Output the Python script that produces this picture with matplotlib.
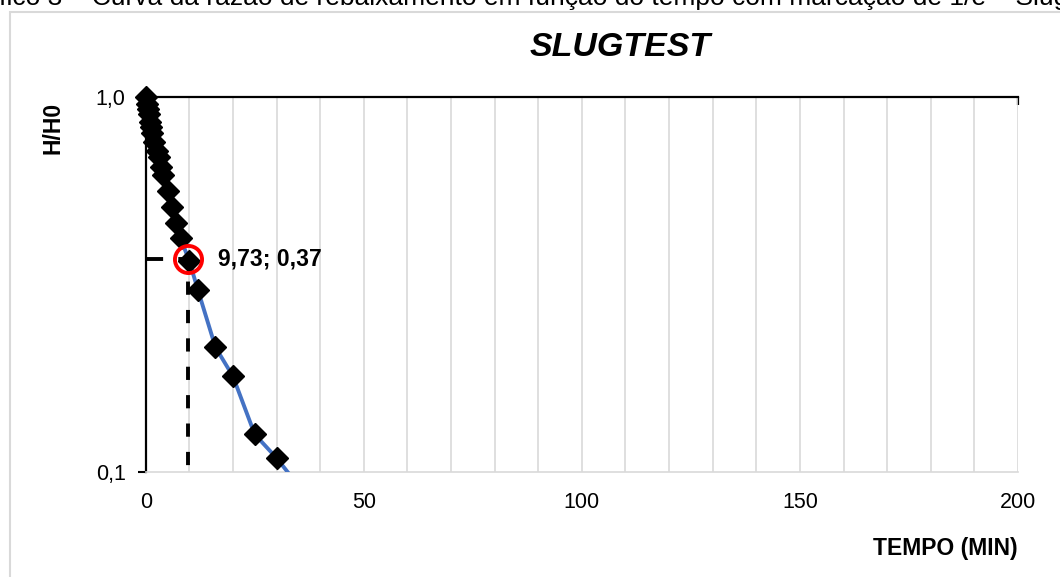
import numpy as np
import matplotlib
matplotlib.use("Agg")
import matplotlib.pyplot as plt
from matplotlib.ticker import MultipleLocator, FixedLocator, NullLocator
from matplotlib.patches import Rectangle

plt.rcParams['font.family'] = ['Liberation Sans', 'DejaVu Sans']

# dados do slug test
tempo = [0, 0.25, 0.5, 0.75, 1.0, 1.25, 1.5, 2.0, 2.5, 3.0, 3.5, 4.0,
         5, 6, 7, 8, 10, 12, 16, 20, 25, 30, 35]
h_h0 = [1.0, 0.96, 0.93, 0.90, 0.86, 0.83, 0.80, 0.76, 0.72, 0.69, 0.65, 0.62,
        0.56, 0.51, 0.46, 0.42, 0.365, 0.305, 0.215, 0.18, 0.126, 0.109, 0.092]

# ponto 1/e marcado
t_marca = 9.73
h_marca = 0.37

x_ticks = [0, 50, 100, 150, 200]
y_ticks = [0.1, 1.0]
y_ticklabels = ['0,1', '1,0']

W, H = 1060, 577
fig = plt.figure(figsize=(W / 100, H / 100), dpi=100)
ax = fig.add_axes([145.7 / W, 1 - 472 / H, (1018 - 145.7) / W, (472 - 97) / H])

# moldura cinza do grafico
fig.patches.append(Rectangle((10 / W, -0.1), 1.2, 1.1 - 12 / H, transform=fig.transFigure,
                             fill=False, edgecolor='#D9D9D9', lw=1.5))

# legenda do documento (cortada no topo)
cap = "Gráfico 3 – Curva da razão de rebaixamento em função do tempo com marcação de 1/e – Slugtest"
r = fig.canvas.get_renderer()
tmp = fig.text(0, 0, "Grá", fontsize=19)
w_gra = tmp.get_window_extent(r).width
tmp.remove()
fig.text(-(w_gra + 1) / W, 1 - 5 / H, cap, fontsize=19, va='baseline', ha='left')

ax.set_yscale('log')
ax.set_xlim(0, 200)
ax.set_ylim(0.1, 1.0)

ax.plot(tempo, h_h0, color='#4472C4', lw=2.8, zorder=3)
t_arr = np.array(tempo)
h_arr = np.array(h_h0)
vis = h_arr >= 0.1
ax.plot(t_arr[vis], h_arr[vis], ls='none', marker='D', ms=11.5, color='black',
        clip_on=False, zorder=4)

# linhas tracejadas ate o ponto 1/e
ax.plot([0, t_marca], [h_marca, h_marca], color='black', lw=2.8, ls=(0, (4.4, 3.9)),
        dash_capstyle='butt', clip_on=False, zorder=2)
ax.plot([t_marca, t_marca], [h_marca, 0.1], color='black', lw=2.8, ls=(1.5, (3.4, 3.9)),
        dash_capstyle='butt', zorder=2)
ax.plot([t_marca], [h_marca], ls='none', marker='o', ms=19.5, mfc='none', mec='#FF0000',
        mew=2.8, zorder=5)
label = f"{t_marca:.2f}; {h_marca:.2f}".replace('.', ',')
ax.annotate(label, xy=(t_marca, h_marca), xytext=(21.6, 0), textcoords='offset points',
            fontsize=16.5, fontweight='bold', va='center', ha='left')

# eixos
ax.xaxis.set_major_locator(FixedLocator(x_ticks))
ax.xaxis.set_minor_locator(MultipleLocator(10))
ax.yaxis.set_major_locator(FixedLocator(y_ticks))
ax.yaxis.set_minor_locator(NullLocator())
ax.set_yticklabels(y_ticklabels)
ax.set_xticklabels([str(v) for v in x_ticks])
ax.grid(True, axis='x', which='both', color='#D9D9D9', lw=1.2, zorder=0)
ax.set_axisbelow(True)

ax.tick_params(axis='x', which='both', length=0, pad=14.5, labelsize=15.5)
ax.tick_params(axis='y', which='major', length=6, width=1.5, direction='out',
               pad=8.5, labelsize=15.5)

for s in ['left', 'top']:
    ax.spines[s].set_color('black')
    ax.spines[s].set_linewidth(1.6)
ax.spines['bottom'].set_color('#D9D9D9')
ax.spines['bottom'].set_linewidth(1.2)
ax.spines['right'].set_visible(False)

sec = ax.secondary_xaxis('top')
sec.set_xticks([200])
sec.set_xticklabels([])
sec.tick_params(direction='in', length=6, width=1.6)
sec.spines['top'].set_visible(False)

fig.text(620 / W, 1 - 47 / H, 'SLUGTEST', fontsize=24.5, fontweight='bold', style='italic',
         ha='center', va='center')
fig.text(53 / W, 1 - 128 / H, 'H/H0', fontsize=16.5, fontweight='bold', rotation=90,
         ha='center', va='center')
fig.text(1018 / W, 1 - 548 / H, 'TEMPO (MIN)', fontsize=16.5, fontweight='bold',
         ha='right', va='center')

fig.savefig('out.png', dpi=100)
